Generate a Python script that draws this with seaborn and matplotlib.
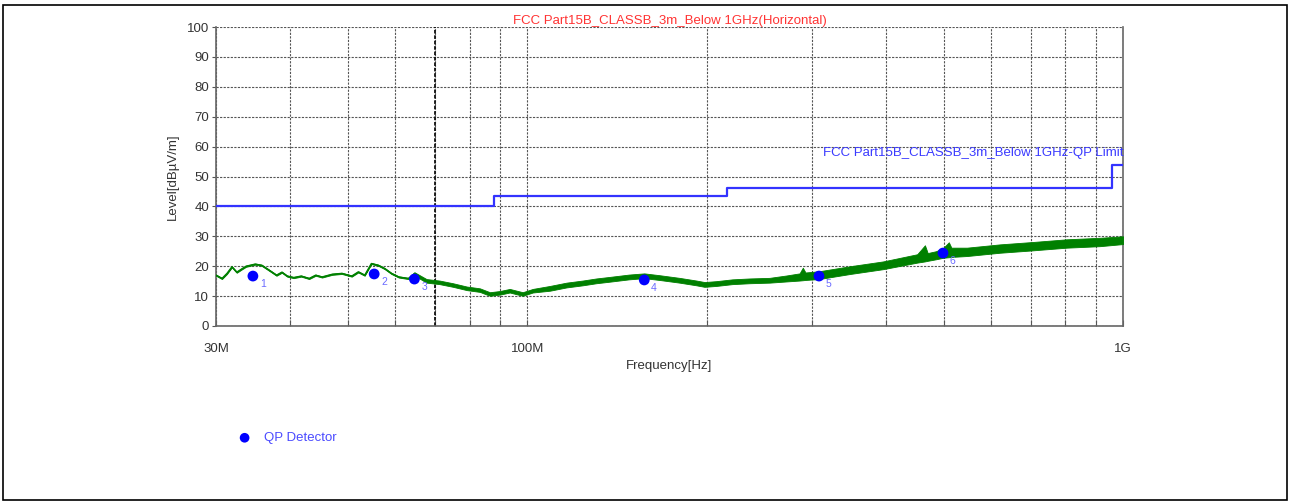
import matplotlib
matplotlib.use("Agg")
import matplotlib.pyplot as plt
import matplotlib.patches as patches
import pandas as pd
import seaborn as sns

trace_freq = [30.0, 30.7, 31.3, 31.9, 32.5, 33.2, 33.7, 34.9, 35.8, 36.5, 37.2,
              37.9, 38.7, 39.5, 40.5, 41.7, 43.0, 44.1, 45.2, 47.0, 48.8, 50.7,
              52.0, 53.3, 54.7, 56.2, 57.6, 59.1, 60.8, 63.1, 64.6, 67.7, 71.2,
              75.0, 79.1, 83.2, 86.5, 89.9, 93.4, 98.2, 102.1, 109.1, 116.3,
              123.8, 130.5, 137.2, 148.1, 157.1, 166.5, 180.0, 192.2, 198.3,
              207.6, 220.8, 236.0, 255.0, 272.3, 286.4, 290.0, 293.0, 308.7,
              348.3, 395.5, 451.3, 465.0, 470.0, 485.0, 498.6, 510.0, 515.0,
              547.1, 621.4, 706.0, 805.0, 915.0, 1000.0]
trace_lo = [16.8, 15.7, 17.4, 19.6, 17.8, 19.0, 19.8, 20.5, 20.1, 19.0, 17.9,
            16.8, 17.8, 16.5, 16.0, 16.5, 15.7, 16.8, 16.2, 17.1, 17.4, 16.5,
            17.9, 16.8, 20.7, 20.1, 19.0, 17.4, 16.2, 15.7, 16.9, 14.5, 14.0,
            13.1, 12.0, 11.4, 10.1, 10.5, 11.2, 10.1, 11.2, 11.8, 12.9, 13.6,
            14.3, 14.8, 15.6, 16.0, 15.4, 14.5, 13.6, 13.1, 13.4, 14.0, 14.3,
            14.5, 14.9, 15.2, 15.3, 15.4, 15.7, 17.4, 19.0, 21.2, 21.6, 21.8,
            22.3, 22.8, 23.0, 23.1, 23.4, 24.5, 25.3, 26.2, 26.7, 27.4]
trace_hi = [17.2, 16.1, 17.8, 20.0, 18.2, 19.4, 20.2, 20.9, 20.5, 19.4, 18.3,
            17.2, 18.2, 16.9, 16.4, 16.9, 16.1, 17.2, 16.6, 17.5, 17.8, 16.9,
            18.3, 17.2, 21.1, 20.5, 19.4, 17.8, 16.6, 16.1, 18.0, 15.7, 15.2,
            14.3, 13.2, 12.6, 11.3, 11.7, 12.4, 11.3, 12.4, 13.4, 14.5, 15.2,
            15.9, 16.4, 17.2, 17.6, 17.0, 16.1, 15.2, 14.7, 15.0, 15.6, 15.9,
            16.1, 16.9, 17.6, 19.5, 17.9, 18.3, 20.0, 21.6, 24.0, 27.0, 24.4,
            25.0, 26.0, 28.0, 26.2, 26.2, 27.3, 28.1, 29.0, 29.5, 30.0]

# FCC Part 15B class B (3 m) QP limit, step breakpoints
limit_freq = [30.0, 88.0, 216.0, 960.0, 1000.0]
limit_level = [40.0, 43.5, 46.0, 54.0, 54.0]

# QP detector readings
qp_freq = [34.6, 55.3, 64.6, 157.1, 308.7, 498.6]
qp_level = [16.7, 17.4, 15.7, 15.4, 16.7, 24.4]
qp_labels = ["1", "2", "3", "4", "5", "6"]

grid_minor = [40, 50, 60, 70, 80, 90, 200, 300, 400, 500, 600, 700, 800, 900]
tick_major = [30, 100, 1000]
tick_major_labels = ["30M", "100M", "1G"]

sns.set_theme(style="white")
plt.rcParams["font.family"] = ["Liberation Sans", "DejaVu Sans"]

fig = plt.figure(figsize=(12.9, 5.03), dpi=100)
ax = fig.add_axes([216 / 1290, 1 - 326 / 503, 907 / 1290, 299 / 503])

df_trace = pd.DataFrame({"freq": trace_freq, "lo": trace_lo, "hi": trace_hi})
df_trace["mid"] = (df_trace["lo"] + df_trace["hi"]) / 2

ax.fill_between(df_trace["freq"], df_trace["lo"], df_trace["hi"],
                color="#008000", lw=0.6, zorder=3)
sns.lineplot(data=df_trace, x="freq", y="mid", color="#008000", lw=1.0,
             ax=ax, zorder=3, estimator=None, sort=False)

df_limit = pd.DataFrame({"freq": limit_freq, "level": limit_level})
sns.lineplot(data=df_limit, x="freq", y="level", color="#3333ff", lw=1.6,
             drawstyle="steps-post", ax=ax, zorder=4, estimator=None, sort=False)

df_qp = pd.DataFrame({"freq": qp_freq, "level": qp_level, "label": qp_labels})
sns.scatterplot(data=df_qp, x="freq", y="level", color="#0000ff", s=60,
                edgecolor="none", ax=ax, zorder=5, label="QP Detector")
for _, row in df_qp.iterrows():
    ax.annotate(row["label"], (row["freq"], row["level"]), xytext=(5, -6),
                textcoords="offset points", fontsize=7.5, color="#6a6aff",
                ha="left", va="center", zorder=6)

ax.set_xscale("log")
ax.set_xlim(30, 1000)
ax.set_ylim(0, 100)
ax.set_xticks(tick_major)
ax.set_xticklabels(tick_major_labels)
ax.set_xticks(grid_minor, minor=True)
ax.set_xticklabels([], minor=True)
ax.set_yticks(range(0, 101, 10))

grid_style = dict(color="#555555", linestyle=(0, (2, 1.2)), lw=0.8)
ax.grid(True, which="both", axis="x", **grid_style)
ax.grid(True, which="major", axis="y", **grid_style)
ax.axvline(70, color="#111111", linestyle=(0, (2, 1)), lw=1.3, zorder=1)

ax.tick_params(axis="x", which="both", direction="in", length=4, width=0.8,
               color="#555555", bottom=True, pad=12, labelsize=9.5,
               labelcolor="#333333")
ax.tick_params(axis="y", direction="out", length=3, width=0.8, color="#555555",
               left=True, pad=2, labelsize=9.5, labelcolor="#333333")

for side in ["left", "bottom", "right"]:
    ax.spines[side].set_color("#666666")
    ax.spines[side].set_linewidth(1.2)
ax.spines["top"].set_visible(False)

ax.set_xlabel("Frequency[Hz]", fontsize=9.5, color="#333333", labelpad=4)
ax.set_ylabel("Level[dBµV/m]", fontsize=9.5, color="#333333", labelpad=6)
ax.set_title("FCC Part15B_CLASSB_3m_Below 1GHz(Horizontal)", fontsize=9.5,
             color="#ff3333", pad=2)

ax.text(1000, 57.9, "FCC Part15B_CLASSB_3m_Below 1GHz-QP Limit", fontsize=9.5,
        color="#3a3aff", ha="right", va="center", zorder=6)

handles, labels = ax.get_legend_handles_labels()
ax.legend(handles, labels, loc="center left", bbox_to_anchor=(0.1845, 0.129),
          bbox_transform=fig.transFigure, frameon=False, fontsize=9.5,
          handlelength=1.0, handletextpad=1.0, borderpad=0, borderaxespad=0,
          labelcolor="#4a4aff", markerscale=0.9)

fig.patches.append(patches.Rectangle((0.0025, 0.006), 0.995, 0.984,
                                     transform=fig.transFigure, fill=False,
                                     edgecolor="black", lw=1.2))

fig.savefig("out.png", dpi=100)
